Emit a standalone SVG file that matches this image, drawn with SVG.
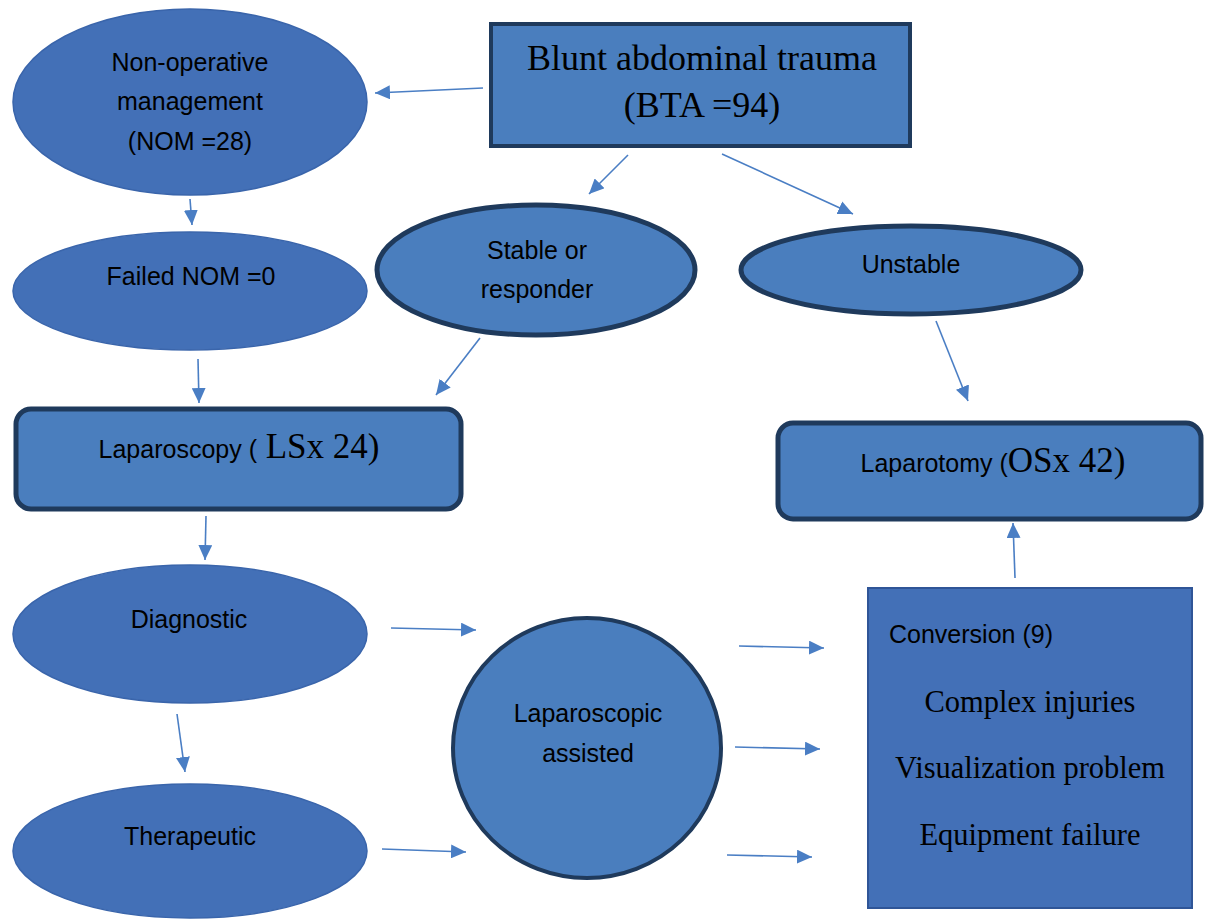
<svg xmlns="http://www.w3.org/2000/svg" width="1205" height="920" viewBox="0 0 1205 920">
<defs>
<style>
.a{fill:#4370B7;stroke:#3A65AB;stroke-width:1.5}
.b{fill:#4A7EBE;stroke:#1F3A5C;stroke-width:5}
.c{fill:#4370B7;stroke:#2F5597;stroke-width:2}
.s{font-family:"Liberation Sans",Arial,sans-serif;font-size:25px;fill:#000}
.r{font-family:"Liberation Serif","Times New Roman",serif;fill:#000}
.m{text-anchor:middle}
.ln{stroke:#4A7EC4;stroke-width:1.6;fill:none;marker-end:url(#ah)}
</style>
<marker id="ah" markerUnits="userSpaceOnUse" markerWidth="16" markerHeight="14" refX="15" refY="7" orient="auto">
<path d="M0,0 L15,7 L0,14 z" fill="#4A7EC4"/>
</marker>
</defs>
<rect width="1205" height="920" fill="#fff"/>
<g id="connectors">
<line class="ln" x1="483" y1="88" x2="375" y2="93"/>
<line class="ln" x1="190" y1="199" x2="192" y2="225"/>
<line class="ln" x1="628" y1="155" x2="589" y2="194"/>
<line class="ln" x1="722" y1="154" x2="853" y2="214"/>
<line class="ln" x1="198" y1="359" x2="199" y2="403"/>
<line class="ln" x1="480" y1="338" x2="436" y2="395"/>
<line class="ln" x1="936" y1="321" x2="968" y2="401"/>
<line class="ln" x1="206" y1="516" x2="205" y2="560"/>
<line class="ln" x1="177" y1="714" x2="185" y2="772"/>
<line class="ln" x1="391" y1="628" x2="476" y2="630"/>
<line class="ln" x1="382" y1="849" x2="466" y2="852"/>
<line class="ln" x1="739" y1="646" x2="824" y2="648"/>
<line class="ln" x1="735" y1="747" x2="820" y2="749"/>
<line class="ln" x1="727" y1="855" x2="812" y2="857"/>
<line class="ln" x1="1015" y1="578" x2="1013" y2="523"/>
</g>
<g id="bta">
<rect class="b" x="491" y="24" width="419" height="122" style="stroke-width:4"/>
<text class="r m" x="702" y="70" font-size="36">Blunt abdominal trauma</text>
<text class="r m" x="702" y="117" font-size="36">(BTA =94)</text>
</g>
<g id="nom">
<ellipse class="a" cx="190" cy="102" rx="177" ry="93"/>
<text class="s m" x="190" y="71">Non-operative</text>
<text class="s m" x="190" y="110">management</text>
<text class="s m" x="190" y="150">(NOM =28)</text>
</g>
<g id="failed">
<ellipse class="a" cx="190" cy="291" rx="177" ry="59"/>
<text class="s m" x="191" y="285">Failed NOM =0</text>
</g>
<g id="stable">
<ellipse class="b" cx="536" cy="270" rx="159" ry="65"/>
<text class="s m" x="537" y="259">Stable or</text>
<text class="s m" x="537" y="298">responder</text>
</g>
<g id="unstable">
<ellipse class="b" cx="911" cy="270" rx="170" ry="44"/>
<text class="s m" x="911" y="273">Unstable</text>
</g>
<g id="laparoscopy">
<rect class="b" x="16" y="409" width="445" height="100" rx="15"/>
<text class="s m" x="239" y="458">Laparoscopy (<tspan class="r" font-size="35"> LSx 24)</tspan></text>
</g>
<g id="laparotomy">
<rect class="b" x="778" y="423" width="423" height="96" rx="15"/>
<text class="s m" x="993" y="472">Laparotomy (<tspan class="r" font-size="35">OSx 42)</tspan></text>
</g>
<g id="diagnostic">
<ellipse class="a" cx="190" cy="634" rx="177" ry="69"/>
<text class="s m" x="189" y="628">Diagnostic</text>
</g>
<g id="therapeutic">
<ellipse class="a" cx="190" cy="851" rx="177" ry="67"/>
<text class="s m" x="190" y="845">Therapeutic</text>
</g>
<g id="assisted">
<ellipse class="b" cx="587" cy="748" rx="134" ry="130" style="stroke-width:4"/>
<text class="s m" x="588" y="722">Laparoscopic</text>
<text class="s m" x="588" y="762">assisted</text>
</g>
<g id="conversion">
<rect class="c" x="868" y="588" width="324" height="320"/>
<text class="s" x="889" y="643">Conversion (9)</text>
<text class="r m" x="1030" y="712" font-size="30.5">Complex injuries</text>
<text class="r m" x="1030" y="778" font-size="30.5">Visualization problem</text>
<text class="r m" x="1030" y="845" font-size="30.5">Equipment failure</text>
</g>
</svg>
